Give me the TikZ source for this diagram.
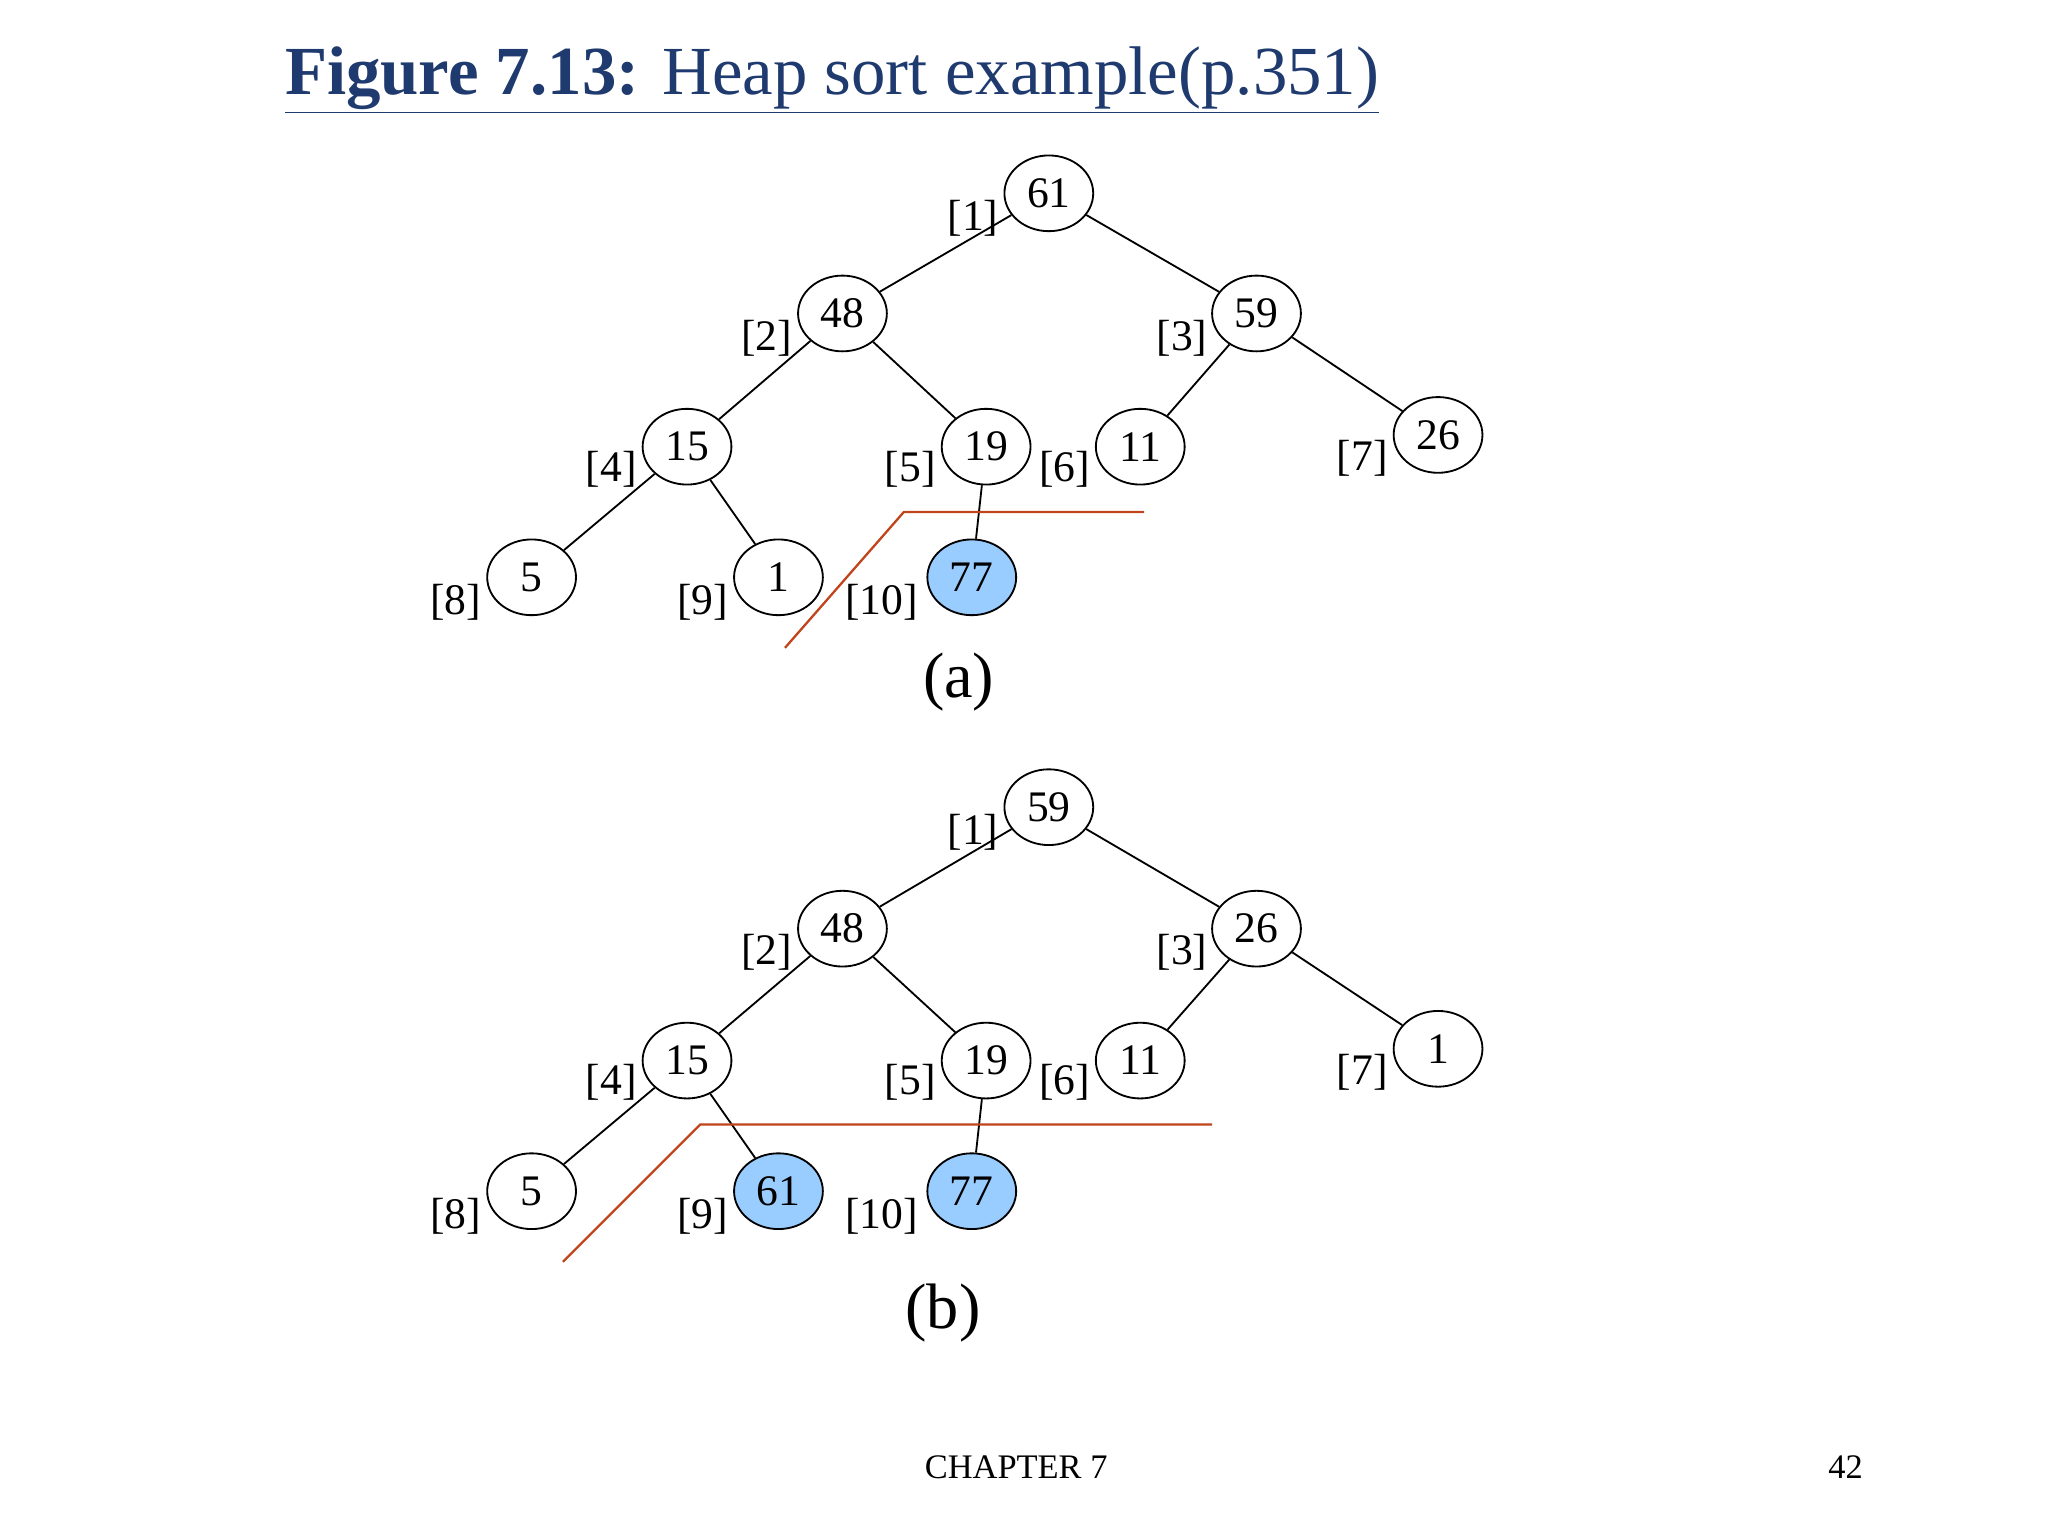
\documentclass[tikz,border=0pt]{standalone}
\usepackage{fontspec}
\setmainfont{Liberation Serif}
\usetikzlibrary{shapes.geometric}
\definecolor{hblue}{HTML}{99CCFF}
\definecolor{cut}{HTML}{C0441C}
\definecolor{ttl}{HTML}{1F3A6E}
\begin{document}
\begin{tikzpicture}[x=0.02cm,y=-0.02cm,
  hn/.style={ellipse,draw,line width=0.8pt,minimum width=1.36cm,minimum height=1.16cm,inner sep=0pt,font=\fontsize{19}{19}\selectfont},
  hot/.style={hn,fill=hblue},
  idx/.style={font=\fontsize{19}{19}\selectfont},
  edge/.style={line width=0.8pt},
  cutline/.style={cut,line width=1pt}]
\useasboundingbox (0,0) rectangle (1568,1176);
\node[anchor=base west,text=ttl,font=\fontsize{30}{30}\selectfont] (title) at (212,72) {\underline{\textbf{Figure 7.13:} Heap sort example(p.351)}};
% (a)
\foreach \n/\v/\x/\y in {a1/61/803/148,a2/48/645/240,a3/59/962/240,a4/15/526/342,a5/19/755/342,a6/11/873/342,a7/26/1101/333,a8/5/407/442,a9/1/596/442}
  \node[hn] (\n) at (\x,\y) {\v};
\node[hot] (a10) at (744,442) {77};
\foreach \a/\b in {a1/a2,a1/a3,a2/a4,a2/a5,a3/a6,a3/a7,a4/a8,a4/a9,a5/a10}
  \draw[edge] (\a) -- (\b);
\foreach \n/\t/\x/\y in {ia1/1/745/167,ia2/2/587/259,ia3/3/905/259,ia4/4/468/359,ia5/5/697/359,ia6/6/815/359,ia7/7/1043/351,ia8/8/349/461,ia9/9/538/461,ia10/10/675/461}
  \node[idx] (\n) at (\x,\y) {[\t]};
\coordinate (ca1) at (601,496); \coordinate (ca2) at (692,392); \coordinate (ca3) at (876,392);
\draw[cutline] (ca1) -- (ca2) -- (ca3);
\node[font=\fontsize{28}{28}\selectfont] (capa) at (734,522) {(a)};
% (b)
\foreach \n/\v/\x/\y in {b1/59/803/618,b2/48/645/711,b3/26/962/711,b4/15/526/812,b5/19/755/812,b6/11/873/812,b7/1/1101/803,b8/5/407/912}
  \node[hn] (\n) at (\x,\y) {\v};
\node[hot] (b9) at (596,912) {61};
\node[hot] (b10) at (744,912) {77};
\foreach \a/\b in {b1/b2,b1/b3,b2/b4,b2/b5,b3/b6,b3/b7,b4/b8,b4/b9,b5/b10}
  \draw[edge] (\a) -- (\b);
\foreach \n/\t/\x/\y in {ib1/1/745/637,ib2/2/587/729,ib3/3/905/729,ib4/4/468/829,ib5/5/697/829,ib6/6/815/829,ib7/7/1043/821,ib8/8/349/931,ib9/9/538/931,ib10/10/675/931}
  \node[idx] (\n) at (\x,\y) {[\t]};
\coordinate (cb1) at (431,966); \coordinate (cb2) at (536,861); \coordinate (cb3) at (928,861);
\draw[cutline] (cb1) -- (cb2) -- (cb3);
\node[font=\fontsize{28}{28}\selectfont] (capb) at (722,1005) {(b)};
\node[font=\fontsize{15}{15}\selectfont] (chap) at (778,1123) {CHAPTER 7};
\node[font=\fontsize{15}{15}\selectfont] (pg) at (1413,1123) {42};
\end{tikzpicture}
\end{document}
